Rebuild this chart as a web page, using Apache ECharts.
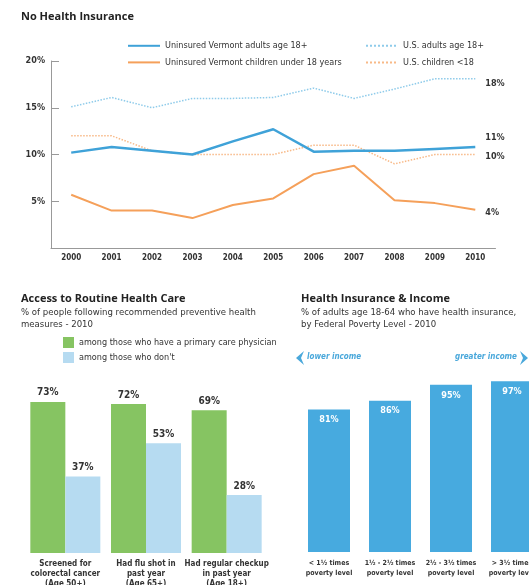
<!DOCTYPE html>
<html>
<head>
<meta charset="utf-8">
<script src="https://cdn.jsdelivr.net/npm/echarts@6/dist/echarts.min.js"></script>
<style>
  html, body { margin: 0; padding: 0; background: #fff; }
  #chart { width: 529px; height: 585px; }
</style>
</head>
<body>
<div id="chart"></div>
<script>
// top chart: % uninsured
const years = ['2000', '2001', '2002', '2003', '2004', '2005', '2006', '2007', '2008', '2009', '2010']
const vtAdults = [10.2, 10.8, 10.4, 10.0, 11.4, 12.7, 10.3, 10.4, 10.4, 10.6, 10.8]
const usAdults = [15.1, 16.1, 15.0, 16.0, 16.0, 16.1, 17.1, 16.0, 17.0, 18.1, 18.1]
const vtChildren = [5.7, 4.0, 4.0, 3.2, 4.6, 5.3, 7.9, 8.8, 5.1, 4.8, 4.1]
const usChildren = [12.0, 12.0, 10.4, 10.0, 10.0, 10.0, 11.0, 11.0, 9.0, 10.0, 10.0]
const pctTicks = ['', '5%', '10%', '15%', '20%']

// bottom left: routine care
const careTasks = ['Screened for\ncolorectal cancer\n(Age 50+)', 'Had flu shot in\npast year\n(Age 65+)', 'Had regular checkup\nin past year\n(Age 18+)']
const withPCP = [73, 72, 69]
const withoutPCP = [37, 53, 28]

// bottom right: insurance by income
const incomeLevels = ['< 1½ times\npoverty level', '1½ - 2½ times\npoverty level', '2½ - 3½ times\npoverty level', '> 3½ times\npoverty level']
const insured = [81, 86, 95, 97]

const narrow = "'Liberation Sans Narrow', 'DejaVu Sans Condensed', 'Roboto Condensed', sans-serif"
const head = "'Open Sans', 'Liberation Sans', sans-serif"
const blue = '#3fa2d8'
const orange = '#f5a05a'
const blueDot = '#8ecbea'
const orangeDot = '#f8b987'

const chart = echarts.init(document.getElementById('chart'))

const endLabel = (dy) => ({
  show: true,
  distance: 10,
  offset: [0, dy],
  color: '#333',
  fontFamily: narrow,
  fontWeight: 'bold',
  fontSize: 9,
  formatter: p => Math.round(p.value) + '%'
})

const lineLegend = (names, left) => ({
  data: names,
  orient: 'vertical', left: left, top: 36,
  itemWidth: 32, itemHeight: 12, itemGap: 7,
  itemStyle: { opacity: 0 },
  textStyle: { fontFamily: narrow, fontSize: 9, color: '#333' }
})

chart.setOption({
  animation: false,
  title: [
    {
      text: 'No Health Insurance',
      left: 16, top: 6,
      textStyle: { fontFamily: head, fontWeight: 'bold', fontSize: 11, color: '#222' }
    },
    {
      text: 'Access to Routine Health Care',
      subtext: '% of people following recommended preventive health\nmeasures - 2010',
      left: 16, top: 288, itemGap: 3,
      textStyle: { fontFamily: head, fontWeight: 'bold', fontSize: 11, color: '#222' },
      subtextStyle: { fontFamily: narrow, fontSize: 9.5, color: '#333', lineHeight: 12 }
    },
    {
      text: 'Health Insurance & Income',
      subtext: '% of adults age 18-64 who have health insurance,\nby Federal Poverty Level - 2010',
      left: 296, top: 288, itemGap: 3,
      textStyle: { fontFamily: head, fontWeight: 'bold', fontSize: 11, color: '#222' },
      subtextStyle: { fontFamily: narrow, fontSize: 9.5, color: '#333', lineHeight: 12 }
    }
  ],
  legend: [
    lineLegend(['Uninsured Vermont adults age 18+', 'Uninsured Vermont children under 18 years'], 122),
    lineLegend(['U.S. adults age 18+', 'U.S. children <18'], 360),
    {
      data: ['among those who have a primary care physician', "among those who don't"],
      orient: 'vertical', left: 58, top: 332,
      icon: 'rect', itemWidth: 11, itemHeight: 11, itemGap: 4,
      textStyle: { fontFamily: narrow, fontSize: 9, color: '#333' }
    }
  ],
  grid: [
    { left: 51, top: 61, width: 444.5, height: 187, outerBoundsMode: 'none' },
    { left: 25, top: 346, width: 242, height: 207, outerBoundsMode: 'none' },
    { left: 329, top: 376, width: 183, height: 176, outerBoundsMode: 'none' }
  ],
  xAxis: [
    {
      gridIndex: 0, type: 'category', data: years,
      axisLine: { lineStyle: { color: '#999', width: 1 } },
      axisTick: { inside: true, alignWithLabel: true, length: 4, lineStyle: { color: '#999' } },
      axisLabel: { fontFamily: narrow, fontWeight: 'bold', fontSize: 8, color: '#333', margin: 6 }
    },
    {
      gridIndex: 1, type: 'category', data: careTasks,
      axisLine: { show: false }, axisTick: { show: false },
      axisLabel: { interval: 0, fontFamily: narrow, fontWeight: 'bold', fontSize: 8, lineHeight: 10, color: '#333', margin: 6 }
    },
    {
      gridIndex: 2, type: 'category', data: incomeLevels, boundaryGap: false,
      axisLine: { show: false }, axisTick: { show: false },
      axisLabel: { interval: 0, fontFamily: narrow, fontWeight: 'bold', fontSize: 7, lineHeight: 10, color: '#333', margin: 6 }
    }
  ],
  yAxis: [
    {
      gridIndex: 0, type: 'value', min: 0, max: 20, interval: 5,
      axisLine: { show: true, lineStyle: { color: '#999', width: 1 } },
      axisTick: { show: true, inside: true, length: 8, lineStyle: { color: '#999' } },
      splitLine: { show: false },
      axisLabel: {
        fontFamily: narrow, fontWeight: 'bold', fontSize: 9, color: '#333', margin: 6,
        formatter: v => pctTicks[v / 5]
      }
    },
    { gridIndex: 1, type: 'value', min: 0, max: 100, show: false },
    { gridIndex: 2, type: 'value', min: 0, max: 100, show: false }
  ],
  graphic: [
    { type: 'polygon', shape: { points: [[304, 351], [296, 358], [304, 365], [301, 358]] }, style: { fill: '#4aa8db' } },
    {
      type: 'text', left: 307, top: 353,
      style: { text: 'lower income', fill: '#4aa8db', font: "italic bold 8px 'Liberation Sans Narrow', 'DejaVu Sans Condensed', sans-serif" }
    },
    { type: 'polygon', shape: { points: [[520, 351], [528, 358], [520, 365], [523, 358]] }, style: { fill: '#4aa8db' } },
    {
      type: 'text', right: 12, top: 353,
      style: { text: 'greater income', fill: '#4aa8db', font: "italic bold 8px 'Liberation Sans Narrow', 'DejaVu Sans Condensed', sans-serif" }
    }
  ],
  series: [
    {
      name: 'Uninsured Vermont adults age 18+', type: 'line', data: vtAdults,
      xAxisIndex: 0, yAxisIndex: 0, symbol: 'none', z: 5,
      itemStyle: { color: blue }, lineStyle: { color: blue, width: 2.5 },
      endLabel: endLabel(-9)
    },
    {
      name: 'Uninsured Vermont children under 18 years', type: 'line', data: vtChildren,
      xAxisIndex: 0, yAxisIndex: 0, symbol: 'none', z: 5,
      itemStyle: { color: orange }, lineStyle: { color: orange, width: 2 },
      endLabel: endLabel(3)
    },
    {
      name: 'U.S. adults age 18+', type: 'line', data: usAdults,
      xAxisIndex: 0, yAxisIndex: 0, symbol: 'none',
      itemStyle: { color: blueDot }, lineStyle: { color: blueDot, width: 1.5, type: 'dotted' },
      endLabel: endLabel(5)
    },
    {
      name: 'U.S. children <18', type: 'line', data: usChildren,
      xAxisIndex: 0, yAxisIndex: 0, symbol: 'none',
      itemStyle: { color: orangeDot }, lineStyle: { color: orangeDot, width: 1.5, type: 'dotted' },
      endLabel: endLabel(2)
    },
    {
      name: 'among those who have a primary care physician', type: 'bar', data: withPCP,
      xAxisIndex: 1, yAxisIndex: 1, barWidth: 35, barGap: '0%',
      itemStyle: { color: '#86c462' },
      label: { show: true, position: 'top', distance: 4, formatter: '{c}%', fontFamily: narrow, fontWeight: 'bold', fontSize: 10, color: '#333' }
    },
    {
      name: "among those who don't", type: 'bar', data: withoutPCP,
      xAxisIndex: 1, yAxisIndex: 1, barWidth: 35, barGap: '0%',
      itemStyle: { color: '#b6dbf1' },
      label: { show: true, position: 'top', distance: 4, formatter: '{c}%', fontFamily: narrow, fontWeight: 'bold', fontSize: 10, color: '#333' }
    },
    {
      name: 'insured', type: 'bar', data: insured,
      xAxisIndex: 2, yAxisIndex: 2, barWidth: 42, clip: false,
      itemStyle: { color: '#47aadf' },
      label: { show: true, position: 'insideTop', distance: 6, formatter: '{c}%', fontFamily: narrow, fontWeight: 'bold', fontSize: 9, color: '#fff' }
    }
  ]
})
</script>
</body>
</html>
